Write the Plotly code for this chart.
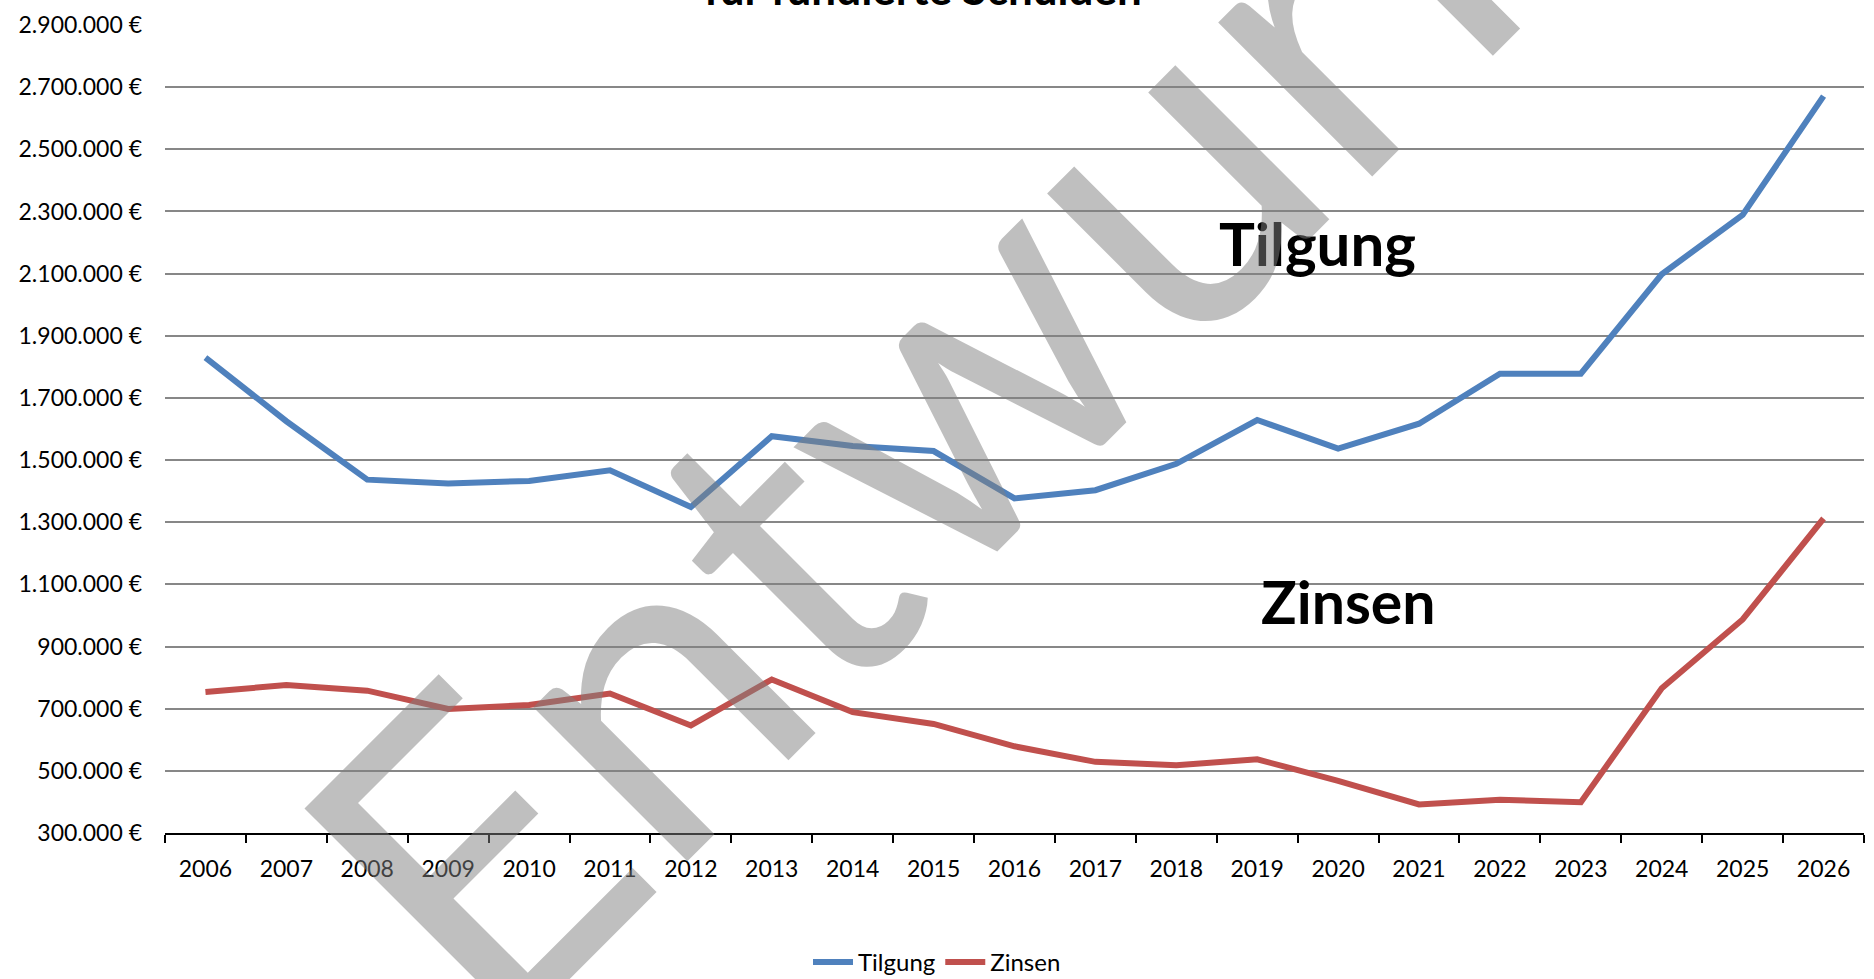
import plotly.graph_objects as go

years = [str(y) for y in range(2006, 2027)]
tilgung = [1830000, 1625000, 1437000, 1425000, 1433000, 1467000, 1349000, 1577000,
           1545000, 1529000, 1377000, 1403000, 1488000, 1629000, 1537000, 1617000,
           1778000, 1778000, 2098000, 2289000, 2671000]
zinsen = [754000, 776000, 758000, 699000, 712000, 749000, 646000, 794000,
          689000, 651000, 579000, 529000, 518000, 537000, 468000, 392000,
          407000, 399000, 766000, 987000, 1312000]

FONT = "Lato"

fig = go.Figure()
fig.add_trace(go.Scatter(x=years, y=tilgung, mode="lines", name="Tilgung",
                         line=dict(color="#4F81BD", width=6)))
fig.add_trace(go.Scatter(x=years, y=zinsen, mode="lines", name="Zinsen",
                         line=dict(color="#C0504D", width=6)))

fig.update_layout(
    width=1874, height=979,
    margin=dict(l=165, r=10, t=19, b=146),
    paper_bgcolor="white", plot_bgcolor="white",
    separators=",.",
    font=dict(family=FONT, size=23, color="black"),
    showlegend=True,
    legend=dict(orientation="h", xref="container", yref="container",
                x=0.5, xanchor="center", y=0.017, yanchor="middle",
                font=dict(size=24), itemwidth=40, tracegroupgap=0),
    xaxis=dict(type="category", range=[-0.5, 20.5], showgrid=False,
               showline=True, linecolor="black", linewidth=2,
               ticks="outside", ticklen=8, tickwidth=1.5, tickcolor="black",
               tickson="boundaries", ticklabelstandoff=14,
               tickfont=dict(size=23)),
    yaxis=dict(range=[300000, 2900000], tick0=300000, dtick=200000,
               tickformat=",d", ticksuffix=" €",
               showgrid=True, gridcolor="#878787", gridwidth=1.6,
               zeroline=False, showline=False, ticks="",
               ticklabelstandoff=22, tickfont=dict(size=23)),
)

# Title (cut off at the top edge)
fig.add_annotation(text="<b>für fundierte Schulden</b>", xref="paper", yref="paper",
                   x=(923 - 165) / 1699, y=1, yanchor="middle", yshift=37,
                   showarrow=False, font=dict(family=FONT, size=44, color="black"))

# Series labels
fig.add_annotation(text="<b>Tilgung</b>", xref="paper", yref="paper",
                   x=0.6784, y=0.7300, xanchor="center", yanchor="middle",
                   showarrow=False, font=dict(family=FONT, size=60, color="black"))
fig.add_annotation(text="<b>Zinsen</b>", xref="paper", yref="paper",
                   x=0.6963, y=0.2860, xanchor="center", yanchor="middle",
                   showarrow=False, font=dict(family=FONT, size=59, color="black"))

# Watermark
fig.add_annotation(text="Entwurf", xref="paper", yref="paper",
                   x=(914 - 165) / 1699, y=(833 - 397) / 814,
                   xanchor="center", yanchor="middle", textangle=-45,
                   showarrow=False,
                   font=dict(family=FONT, size=430, color="rgba(128,128,128,0.5)"))

fig.write_html("out.html",
               config={"displayModeBar": False},
               post_script="document.body.style.margin='0';"
                           "document.body.style.overflow='hidden';")
